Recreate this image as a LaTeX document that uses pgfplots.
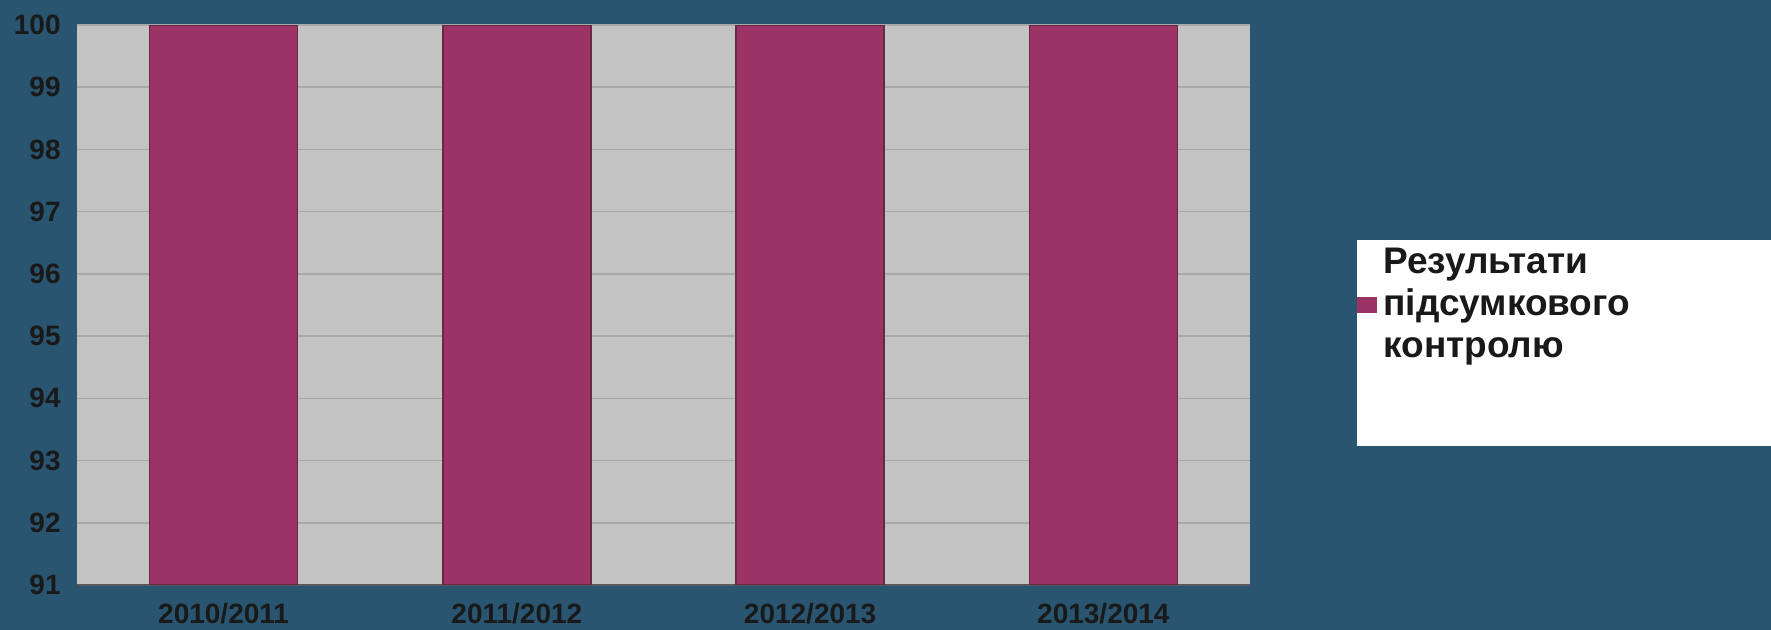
\documentclass[border=0pt]{standalone}
\usepackage{fontspec}
\setmainfont{Liberation Sans}
\usepackage{pgfplots}
\pgfplotsset{compat=1.18}
\definecolor{bgblue}{RGB}{41,85,113}
\definecolor{plotgray}{RGB}{195,195,195}
\definecolor{gridgray}{RGB}{168,168,168}
\definecolor{barcol}{RGB}{155,51,101}
\definecolor{baredge}{RGB}{105,40,72}
\definecolor{tickcol}{RGB}{25,25,25}
\begin{document}
\begin{tikzpicture}
\fill[bgblue] (0,0) rectangle (885.5pt,315pt);
\begin{axis}[
  at={(38.5pt,22.5pt)}, anchor=south west,
  scale only axis, width=586.5pt, height=280pt,
  xmin=-0.5, xmax=3.5, ymin=91, ymax=100,
  ytick={91,92,...,100},
  xtick=data, xticklabels={2010/2011,2011/2012,2012/2013,2013/2014},
  ybar, bar width=74pt,
  axis background/.style={fill=plotgray},
  ymajorgrids, grid style={gridgray, line width=0.8pt},
  axis x line*=bottom, axis y line*=left,
  x axis line style={draw=black!65, line width=0.8pt, -},
  y axis line style={draw=none, -},
  major tick length=0pt,
  tick label style={font=\bfseries\fontsize{14}{14}\selectfont, text=tickcol},
  yticklabel style={inner sep=0pt, xshift=-8pt},
  xticklabel style={inner sep=0pt, yshift=-9pt},
  /pgf/number format/assume math mode=true,
  legend style={at={(1.0912,0.6161)}, anchor=north west, fill=white, draw=none,
    inner sep=0pt, nodes={inner sep=0pt, anchor=base west}, column sep=3pt,
    font=\bfseries\fontsize{18.5}{21}\selectfont, text=tickcol},
  legend image code/.code={\path[draw=none,fill=none] (0pt,16.5pt) -- (0pt,-86.5pt);\fill[#1,draw=none] (0pt,-20pt) rectangle (10pt,-12pt);},
]
\addplot[fill=barcol, draw=baredge, line width=0.8pt] coordinates {(0,100) (1,100) (2,100) (3,100)};
\legend{{\vtop{\baselineskip=21pt\lineskiplimit=0pt\hbox to 194pt{\rule{0pt}{16.5pt}Результати\hfil}\hbox{підсумкового}\hbox{контролю\rule[-44.5pt]{0pt}{0pt}}}}}
\end{axis}
\pgfresetboundingbox
\useasboundingbox (0,0) rectangle (885.5pt,315pt);
\end{tikzpicture}
\end{document}
